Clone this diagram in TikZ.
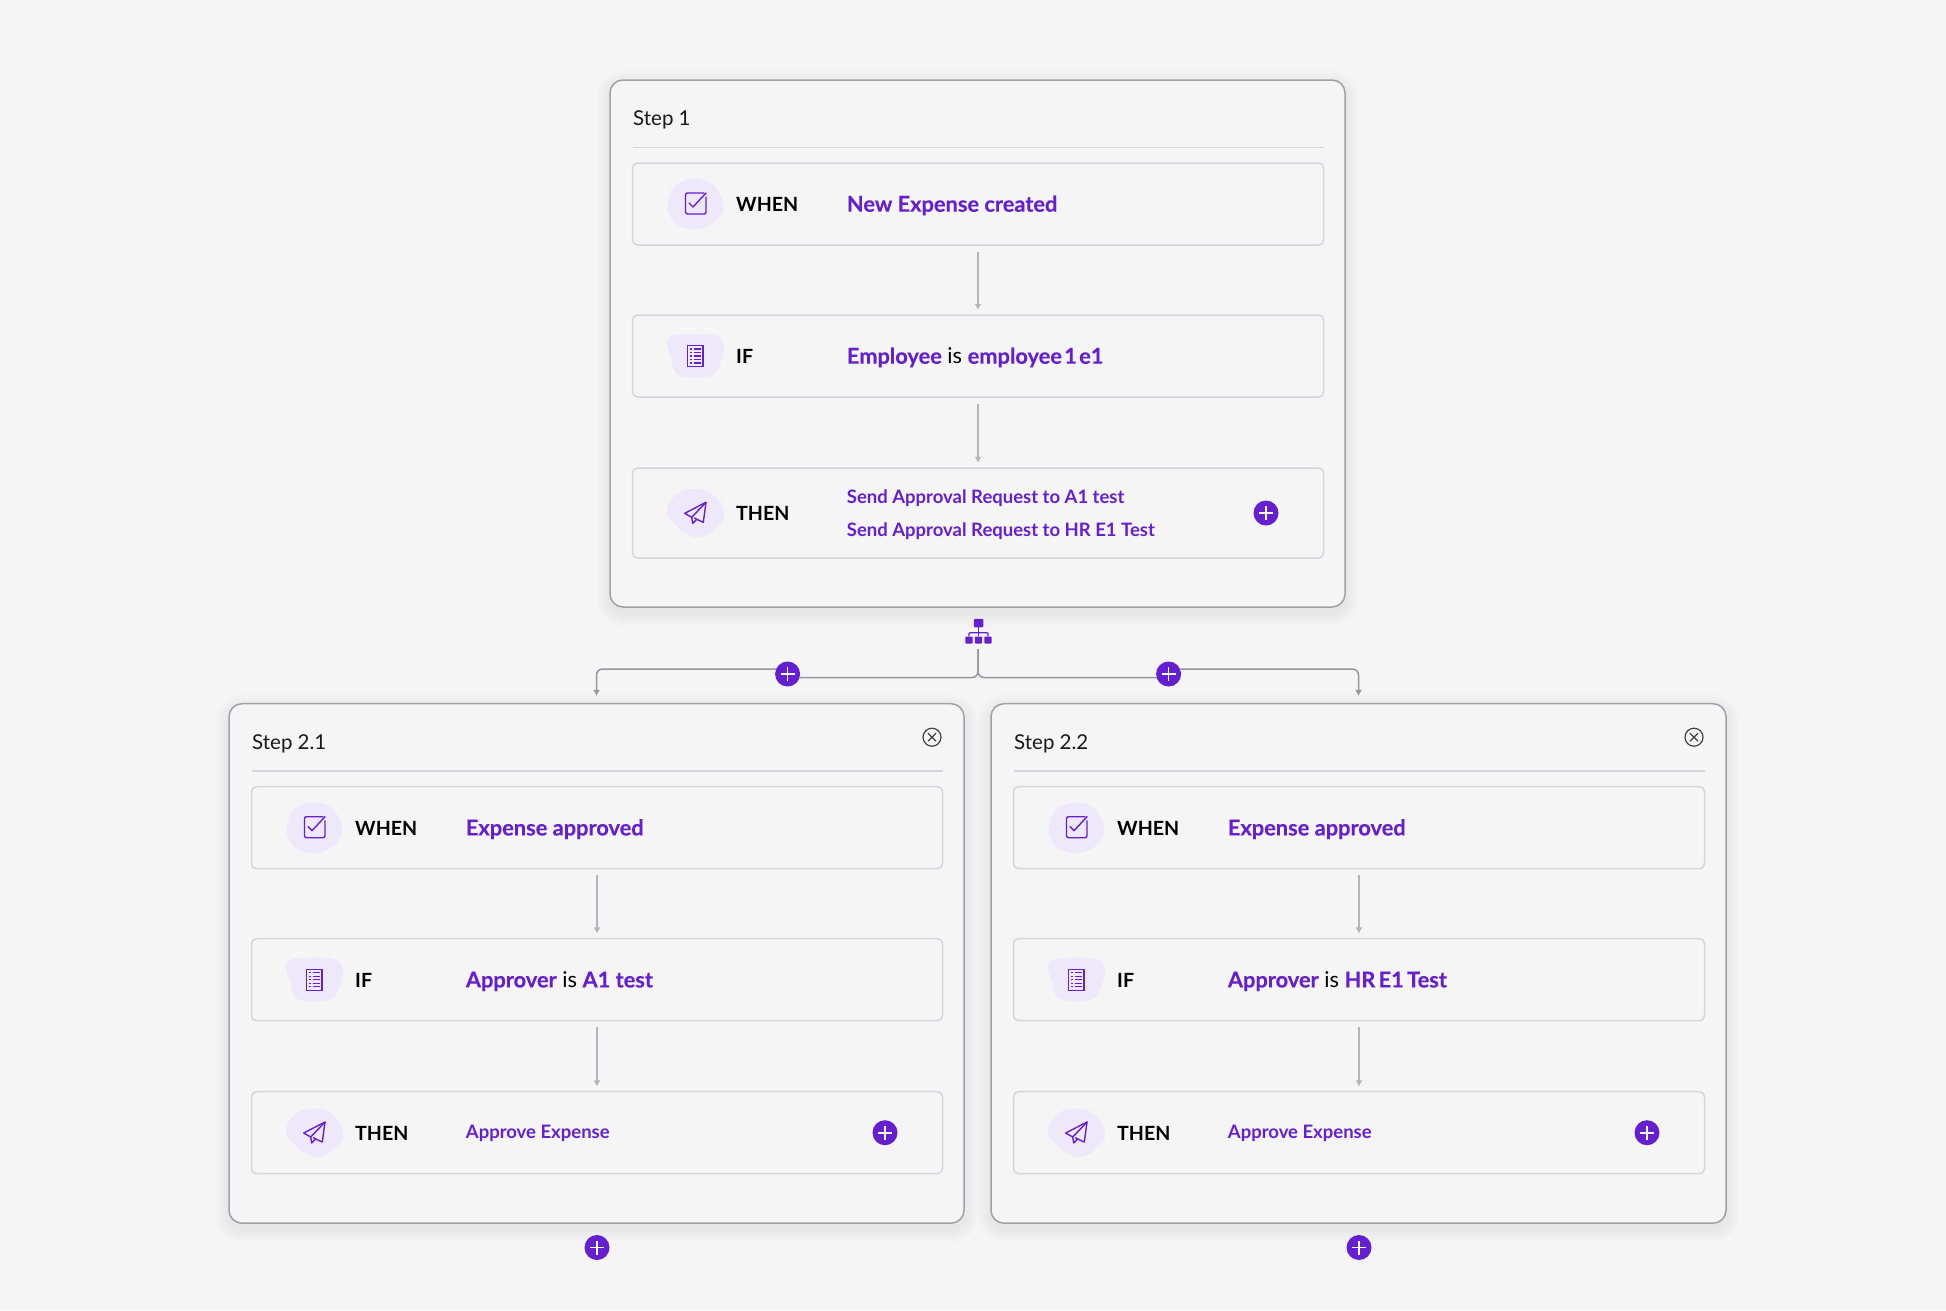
\documentclass[tikz,border=0pt]{standalone}
\usepackage{fontspec}
\setmainfont{Lato}
\newfontface\heavyface{Lato Bold}[FakeBold=0.25]
\usetikzlibrary{arrows.meta,calc}
\definecolor{pagebg}{HTML}{F5F5F5}
\definecolor{brand}{HTML}{651FD0}
\definecolor{blobfill}{HTML}{EEE8FB}
\definecolor{cardline}{HTML}{A0A0A8}
\definecolor{boxline}{HTML}{D6D6DA}
\definecolor{flowline}{HTML}{B4B4BA}
\definecolor{branchline}{HTML}{96969D}
\tikzset{
  x=1pt,y=-1pt,
  cardbox/.style={draw=cardline,line width=1.5pt,fill=pagebg,rounded corners=13pt,inner sep=0pt,minimum width=735pt},
  rowbox/.style={draw=boxline,line width=1.5pt,fill=pagebg,rounded corners=5pt,inner sep=0pt,minimum width=691pt},
  flow/.style={draw=flowline,line width=1.5pt,-{Latex[length=6pt,width=7pt]},shorten <=6pt,shorten >=4.5pt},
  branch/.style={draw=branchline,line width=1.5pt,rounded corners=6pt},
  branchend/.style={branch,-{Latex[length=6pt,width=7pt]},shorten >=7pt},
  titletext/.style={anchor=base west,inner sep=0pt,font=\fontsize{20.5}{24}\selectfont,text=black!90},
  keytext/.style={anchor=base west,inner sep=0pt,font=\fontsize{19.6}{24}\selectfont\bfseries,text=black},
  valtext/.style={anchor=base west,inner sep=0pt,font=\fontsize{21.8}{24}\selectfont,text=black},
  smalltext/.style={anchor=base west,inner sep=0pt,font=\fontsize{18.5}{22}\selectfont\bfseries,text=brand},
  plusnode/.style={circle,fill=brand,inner sep=0pt,minimum size=#1,
    path picture={\draw[white,line width=1.6pt] (path picture bounding box.center)+(-7,0) -- +(7,0)
       (path picture bounding box.center)+(0,-7) -- +(0,7);}},
  closenode/.style={circle,draw=black!75,line width=1.2pt,inner sep=0pt,minimum size=18pt,
    path picture={\draw[black!75,line width=1.2pt] (path picture bounding box.center)+(-4,-4) -- +(4,4)
       (path picture bounding box.center)+(4,-4) -- +(-4,4);}},
  iconline/.style={draw=brand,line width=1.4pt,line join=round,line cap=round},
  hiertop/.style={fill=brand,inner sep=0pt,minimum width=9.5pt,minimum height=8.5pt,rounded corners=1pt},
  hierleaf/.style={fill=brand,inner sep=0pt,minimum width=7.2pt,minimum height=7pt,rounded corners=.8pt},
}
\newcommand{\br}[1]{{\heavyface\color{brand}#1}}
% #1 prefix, #2 x, #3 y, #4 card height, #5 title, #6 when, #7 if, #8 then height, #9 extra code
\newcommand{\stepcard}[9]{%
  \foreach \s in {2,4,...,14}{\fill[black,opacity=.008,rounded corners={13pt+\s*1pt}] ({#2-\s},{#3-\s+5}) rectangle ({#2+735+\s},{#3+#4+\s+5});}
  \begin{scope}[shift={({#2-610},{#3-80})}]
    \pgfmathsetmacro{\thenc}{468+#8/2}
    \node[cardbox,minimum height=#4] (#1card) at (977.5,{80+#4/2}) {};
    \draw[boxline,line width=1.5pt] (633,147.5) -- (1324,147.5);
    \node[titletext] (#1title) at (633,125.5) {#5};
    \node[rowbox,minimum height=82pt] (#1when) at (978,204) {};
    \node[rowbox,minimum height=82pt] (#1if) at (978,356) {};
    \node[rowbox,minimum height=#8] (#1then) at (978,\thenc) {};
    \draw[flow] (#1when) -- (#1if);
    \draw[flow] (#1if) -- (#1then);
    % WHEN icon
    \fill[blobfill] plot[smooth cycle,tension=.7] coordinates {(668,203)(675,186)(693,179)(712,184)(723,203)(717,220)(698,229)(680,226)(670,216)};
    \draw[iconline,rounded corners=2pt] (704,193) -- (685.5,193) -- (685.5,214) -- (706,214) -- (706,197);
    \draw[iconline] (689,203) -- (693,207) -- (706,193);
    \node[keytext] (#1whenkey) at (736,211.7) {WHEN};
    \node[valtext] (#1whenval) at (846.7,211.7) {#6};
    % IF icon
    \fill[blobfill] plot[smooth cycle,tension=.6] coordinates {(667,343)(673,335.5)(695,334)(716,335.5)(724,345)(722,358)(716,372)(705,377)(685,377)(675,372)(671,358)};
    \draw[iconline,line cap=butt,line join=miter] (687.5,345.5) rectangle (703,366.5);
    \foreach \r in {349,352.5,356,359.5,363}{
      \draw[brand,line width=1.2pt] (690,\r) -- (691.8,\r) (693.5,\r) -- (700.5,\r);}
    \node[keytext] (#1ifkey) at (736,363.7) {IF};
    \node[valtext] (#1ifval) at (846.7,363.7) {#7};
    % THEN icon
    \begin{scope}[yshift={-(\thenc-513)*1pt}]
      \fill[blobfill] plot[smooth cycle,tension=.9] coordinates {(667,512)(676,495)(694,489)(712,494)(724,513)(716,528)(700,537)(686,533)(674,523)};
      \draw[iconline] (706,502.3) -- (684.7,513.3) -- (691.7,517.3) -- (692.7,523.3) -- (696.7,519.3) -- (703.3,522.3) -- cycle;
      \draw[iconline] (691.7,517.3) -- (706,502.3) (696.7,519.3) -- (694.5,518);
      \node[keytext] (#1thenkey) at (736,520.3) {THEN};
      \node[plusnode=25pt] (#1add) at (1266,513) {};
    \end{scope}
    #9
  \end{scope}}
\begin{document}
\begin{tikzpicture}
\useasboundingbox (0,0) rectangle (1946,1310);
\fill[pagebg] (0,0) rectangle (1946,1310);

\stepcard{a}{610}{80}{527}{Step 1}{\br{New Expense created}}{\br{Employee} is \br{employee\hspace{-3pt} 1\hspace{-3pt} e1}}{90}{%
  \node[smalltext] (athena) at (846.7,503.5) {Send Approval Request to A1 test};
  \node[smalltext] (athenb) at (846.7,536.5) {Send Approval Request to HR E1 Test};}

\stepcard{b}{229}{703.7}{519.5}{Step 2.1}{\br{Expense approved}}{\br{Approver} is \br{A1 test}}{82}{%
  \node[closenode] (bclose) at (1313,113.5) {};
  \node[smalltext] (bthena) at (846.7,514.7) {Approve Expense};}

\stepcard{c}{991}{703.7}{519.5}{Step 2.2}{\br{Expense approved}}{\br{Approver} is \br{HR\hspace{-2pt} E1\hspace{-2pt} Test}}{82}{%
  \node[closenode] (cclose) at (1313,113.5) {};
  \node[smalltext] (cthena) at (846.7,514.7) {Approve Expense};}

% hierarchy icon
\node[hiertop] (hier) at (978.5,623) {};
\node[hierleaf] (hl) at (969,640) {};
\node[hierleaf] (hm) at (978.5,640) {};
\node[hierleaf] (hr) at (988,640) {};
\draw[brand,line width=1.3pt] (hier) -- (hm);
\draw[brand,line width=1.3pt,rounded corners=1pt] (hl.north) -- ++(0,-3.5) -- ++(19,0) -- (hr.north);

% branch
\coordinate (stem) at (978,649);
\node[plusnode=25pt] (plusl) at (787.6,674) {};
\node[plusnode=25pt] (plusr) at (1168.6,674) {};
\coordinate (lowl) at ($(plusl.east)+(-1,3.5)$);
\coordinate (lowr) at ($(plusr.west)+(1,3.5)$);
\coordinate (upl) at ($(plusl.west)+(1,-5)$);
\coordinate (upr) at ($(plusr.east)+(-1,-5)$);
\draw[branch] (stem) |- (lowl);
\draw[branch] (stem) |- (lowr);
\draw[branchend] (upl) -| (bcard.north);
\draw[branchend] (upr) -| (ccard.north);

\node[plusnode=25pt] (addb) at (597,1247.5) {};
\node[plusnode=25pt] (addc) at (1359,1247.5) {};
\end{tikzpicture}
\end{document}
